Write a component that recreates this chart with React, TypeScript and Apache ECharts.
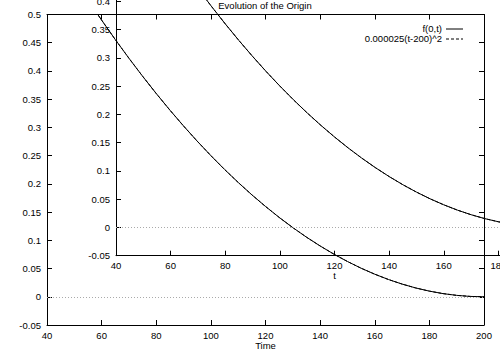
import React, { useEffect, useRef } from "react";
import * as echarts from "echarts";

// Time steps
const timeSteps = [
  40, 45, 50, 55, 60, 65, 70, 75, 80, 85, 90, 95, 100, 105, 110, 115, 120,
  125, 130, 135, 140, 145, 150, 155, 160, 165, 170, 175, 180, 185, 190, 195, 200,
];
// f(0,t) – origin value
const originValues = [
  0.64, 0.6006, 0.5625, 0.5256, 0.49, 0.4556, 0.4225, 0.3906, 0.36, 0.3306,
  0.3025, 0.2756, 0.25, 0.2256, 0.2025, 0.1806, 0.16, 0.1406, 0.1225, 0.1056,
  0.09, 0.0756, 0.0625, 0.0506, 0.04, 0.0306, 0.0225, 0.0156, 0.01, 0.0056,
  0.0025, 0.0006, 0,
];
// 0.000025(t-200)^2 fit – coincides with f(0,t)
const fitValues = [
  0.64, 0.6006, 0.5625, 0.5256, 0.49, 0.4556, 0.4225, 0.3906, 0.36, 0.3306,
  0.3025, 0.2756, 0.25, 0.2256, 0.2025, 0.1806, 0.16, 0.1406, 0.1225, 0.1056,
  0.09, 0.0756, 0.0625, 0.0506, 0.04, 0.0306, 0.0225, 0.0156, 0.01, 0.0056,
  0.0025, 0.0006, 0,
];
const seriesNames = ["f(0,t)", "0.000025(t-200)^2"];
const titleText = "Evolution of the Origin";
const outerXName = "Time";
const insetXName = "t";
const xMin = 40;
const xMax = 200;
const xStep = 20;
const yMin = -0.05;
const yMax = 0.5;
const yStep = 0.05;
// the inset's upper labels lie above the page and are not drawn
const insetYLabelLimit = 0.4;

const FONT = "'Liberation Sans', Arial, Helvetica, sans-serif";
const FS = 9.5;

export default function App() {
  const ref = useRef<HTMLDivElement>(null);

  useEffect(() => {
    if (!ref.current) return;
    const chart = echarts.init(ref.current, null, { renderer: "svg" });

    const pts = (vals: number[]) => timeSteps.map((t, i) => [t, vals[i]]);
    const axisLine = { show: true, onZero: false, lineStyle: { color: "#000", width: 1 } };
    const tick = { show: true, inside: true, length: 5, lineStyle: { color: "#000" } };
    const label = { color: "#000", fontSize: FS, fontFamily: FONT };

    const mkX = (gridIndex: number, position: string, withLabels: boolean, name?: string) => ({
      type: "value",
      gridIndex,
      position,
      min: xMin,
      max: xMax,
      interval: xStep,
      axisLine,
      axisTick: tick,
      axisLabel: withLabels ? { ...label, margin: 5 } : { show: false },
      splitLine: { show: false },
      name: name || "",
      nameLocation: "middle",
      nameGap: 15,
      nameMoveOverlap: false,
      nameTextStyle: { ...label },
    });
    const mkY = (gridIndex: number, position: string, withLabels: boolean, limit?: number) => ({
      type: "value",
      gridIndex,
      position,
      min: yMin,
      max: yMax,
      interval: yStep,
      axisLine,
      axisTick: tick,
      axisLabel: withLabels
        ? {
            ...label,
            margin: 6,
            formatter: (v: number) =>
              limit !== undefined && v > limit + 1e-9 ? "" : String(+v.toFixed(2)),
          }
        : { show: false },
      splitLine: { show: false },
    });

    const zeroLine = {
      silent: true,
      symbol: "none",
      label: { show: false },
      lineStyle: { type: [1, 2], color: "#aaa", width: 1 },
      data: [{ yAxis: 0 }],
    };

    const mkSeries = (xi: number, yi: number) => [
      {
        type: "line",
        name: seriesNames[1],
        xAxisIndex: xi,
        yAxisIndex: yi,
        data: pts(fitValues),
        symbol: "none",
        lineStyle: { color: "#000", width: 1, type: [3, 2] },
        itemStyle: { color: "#000" },
        markLine: zeroLine,
      },
      {
        type: "line",
        name: seriesNames[0],
        xAxisIndex: xi,
        yAxisIndex: yi,
        data: pts(originValues),
        symbol: "none",
        lineStyle: { color: "#000", width: 1, type: "solid" },
        itemStyle: { color: "#000" },
      },
    ];

    // legend drawn as graphic: right-aligned text, sample line on its right
    const legendRows = [
      { name: seriesNames[0], dash: null as number[] | null },
      { name: seriesNames[1], dash: [3, 2] },
    ];
    const legendGraphics: any[] = [];
    legendRows.forEach((r, i) => {
      const y = 28.5 + i * 10;
      legendGraphics.push({
        type: "text",
        x: 442,
        y,
        style: {
          text: r.name,
          fill: "#000",
          font: `${FS}px ${FONT}`,
          textAlign: "right",
          textVerticalAlign: "middle",
        },
      });
      legendGraphics.push({
        type: "line",
        shape: { x1: 446, y1: y + 0.5, x2: 463, y2: y + 0.5 },
        style: { stroke: "#000", lineWidth: 1, lineDash: r.dash || undefined },
      });
    });

    chart.setOption({
      animation: false,
      backgroundColor: "#fff",
      title: {
        text: titleText,
        left: 265,
        top: 0.5,
        padding: 0,
        textAlign: "center",
        textStyle: { color: "#000", fontSize: FS, fontWeight: "normal", fontFamily: FONT },
      },
      grid: [
        { left: 47, top: 14.5, width: 437, height: 310.5, outerBoundsMode: "none", containLabel: false },
        { left: 116, top: -55.3, width: 437, height: 311, outerBoundsMode: "none", containLabel: false },
      ],
      xAxis: [
        mkX(0, "bottom", true, outerXName),
        mkX(0, "top", false),
        mkX(1, "bottom", true, insetXName),
      ],
      yAxis: [
        mkY(0, "left", true),
        mkY(0, "right", false),
        mkY(1, "left", true, insetYLabelLimit),
      ],
      series: [...mkSeries(0, 0), ...mkSeries(2, 2)],
      graphic: legendGraphics,
    });

    return () => chart.dispose();
  }, []);

  return (
    <div
      ref={ref}
      style={{ position: "absolute", left: 0, top: 0, width: 500, height: 350 }}
    />
  );
}
